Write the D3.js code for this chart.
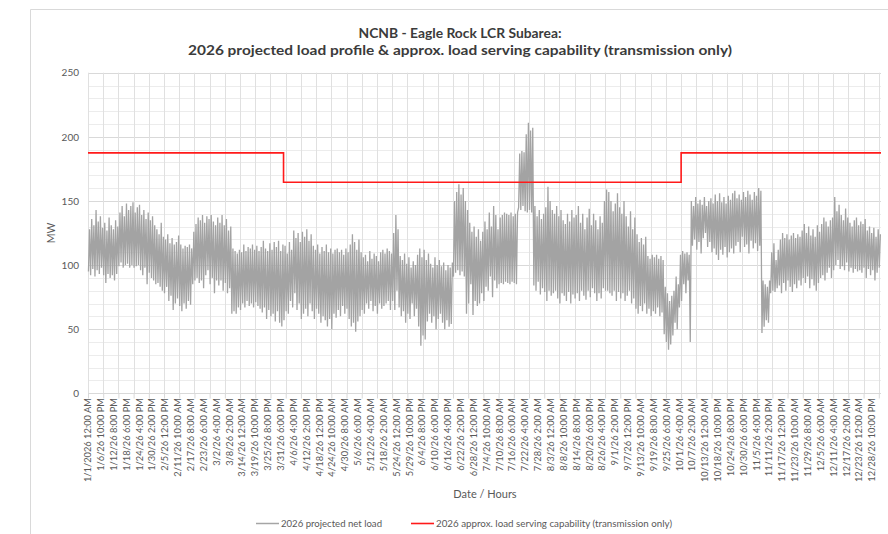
<!DOCTYPE html>
<html>
<head>
<meta charset="utf-8">
<script src="https://cdn.jsdelivr.net/npm/d3@7"></script>
<style>
  html, body { margin: 0; padding: 0; background: #fff; }
  svg { display: block; }
</style>
</head>
<body>
<svg id="chart" width="888" height="534"></svg>
<script>
// ---------------- DATA ----------------
const titleLines = ["NCNB - Eagle Rock LCR Subarea:",
  "2026 projected load profile & approx. load serving capability (transmission only)"];
const yTicks = [0, 50, 100, 150, 200, 250];
const hoursInYear = 8760;
const labelEveryHours = 142;
const gridEveryHours = 168;
const xLabels = [
 "1/1/2026 12:00 AM","1/6/26 10:00 PM","1/12/26 8:00 PM","1/18/26 6:00 PM","1/24/26 4:00 PM","1/30/26 2:00 PM",
 "2/5/26 12:00 PM","2/11/26 10:00 AM","2/17/26 8:00 AM","2/23/26 6:00 AM","3/2/26 4:00 AM","3/8/26 2:00 AM",
 "3/14/26 12:00 AM","3/19/26 10:00 PM","3/25/26 8:00 PM","3/31/26 6:00 PM","4/6/26 4:00 PM","4/12/26 2:00 PM",
 "4/18/26 12:00 PM","4/24/26 10:00 AM","4/30/26 8:00 AM","5/6/26 6:00 AM","5/12/26 4:00 AM","5/18/26 2:00 AM",
 "5/24/26 12:00 AM","5/29/26 10:00 PM","6/4/26 8:00 PM","6/10/26 6:00 PM","6/16/26 4:00 PM","6/22/26 2:00 PM",
 "6/28/26 12:00 PM","7/4/26 10:00 AM","7/10/26 8:00 AM","7/16/26 6:00 AM","7/22/26 4:00 AM","7/28/26 2:00 AM",
 "8/3/26 12:00 AM","8/8/26 10:00 PM","8/14/26 8:00 PM","8/20/26 6:00 PM","8/26/26 4:00 PM","9/1/26 2:00 PM",
 "9/7/26 12:00 PM","9/13/26 10:00 AM","9/19/26 8:00 AM","9/25/26 6:00 AM","10/1/26 4:00 AM","10/7/26 2:00 AM",
 "10/13/26 12:00 AM","10/18/26 10:00 PM","10/24/26 8:00 PM","10/30/26 6:00 PM","11/5/26 4:00 PM","11/11/26 2:00 PM",
 "11/17/26 12:00 PM","11/23/26 10:00 AM","11/29/26 8:00 AM","12/5/26 6:00 AM","12/11/26 4:00 AM","12/17/26 2:00 AM",
 "12/23/26 12:00 AM","12/28/26 10:00 PM"];

// Daily peak (max) of the projected net load, MW, day 0 = Jan 1
const loadDailyMax = [
 128,136,131,143,134,138,129,133,127,137, 131,128,135,130,141,146,138,148,143,146,
 149,141,145,147,139,143,136,141,135,138, 131,128,124,133,122,120,124,117,121,116,
 118,123,116,113,115,114,116,113,126,132, 137,135,139,133,138,136,139,134,131,137,
 133,139,131,136,127,130,113,111,109,112, 110,116,111,114,113,116,112,115,111,114,
 119,113,111,117,112,118,114,119,111,116, 115,109,118,112,127,121,125,118,126,122,
 128,119,124,115,112,116,109,114,111,116, 110,113,109,112,113,110,112,108,113,110,
 116,124,118,112,120,110,106,108,103,111, 105,109,107,103,110,112,109,113,111,109,
 125,139,128,107,104,109,101,106,98,103, 100,108,113,106,112,104,109,101,98,106,
 100,104,99,102,96,100,98,102,150,157, 163,155,160,150,143,133,126,130,122,128,
 119,126,134,128,141,130,146,139,128,137, 139,141,140,139,141,138,140,141,187,189,
 188,202,211,205,207,146,138,143,136,140, 145,161,150,143,140,146,138,143,135,132,
 140,134,143,137,139,146,133,140,128,137, 144,131,140,135,128,138,133,150,159,157,
 150,142,148,156,145,140,150,138,130,142, 128,137,124,118,121,116,122,107,105,108,
 106,108,105,107,104,83,78,72,76,80, 91,85,108,111,109,110,108,150,146,153,
 148,151,147,153,146,150,152,148,155,150, 156,149,153,148,154,151,156,158,152,155,
 151,157,153,158,155,151,157,154,160,158, 88,85,83,88,110,117,104,112,120,125,
 121,124,120,123,125,121,124,122,127,132, 125,130,123,128,122,131,126,132,137,134,
 130,135,137,153,142,147,139,135,144,137, 133,130,135,137,131,134,132,136,127,130,
 125,129,122,128,124];

// Daily minimum of the projected net load, MW
const loadDailyMin = [
 95,92,97,91,96,93,98,92,86,93, 90,92,88,93,99,102,98,100,101,98,
 100,98,99,100,96,92,98,85,94,90, 88,85,86,83,80,78,83,72,76,65,
 70,74,68,64,70,66,72,69,85,88, 90,86,88,82,92,96,85,90,78,88,
 84,88,80,86,78,82,62,64,62,67, 65,70,67,72,68,70,67,71,68,66,
 63,67,58,65,60,62,56,64,55,52, 57,64,62,72,67,78,65,70,58,62,
 66,60,70,64,58,66,62,55,60,57, 52,58,50,62,59,65,60,68,62,66,
 58,52,55,48,56,60,65,62,70,66, 72,64,68,62,70,66,68,70,72,65,
 72,65,80,67,60,64,55,62,58,70, 60,66,52,37,45,42,56,62,55,60,
 50,58,62,55,50,57,52,54,91,94, 96,92,95,91,62,70,85,61,72,68,
 70,78,72,83,80,91,75,88,82,85, 86,85,87,86,85,87,86,85,145,143,
 146,142,141,143,141,84,80,87,77,82, 79,72,80,76,78,80,74,70,78,76,
 72,79,70,77,74,78,72,80,76,73, 80,75,82,78,72,78,74,82,80,80,
 78,76,80,72,79,74,78,72,76,80, 70,74,66,62,68,64,70,62,66,60,
 64,62,67,60,63,46,40,34,38,45, 55,50,67,72,85,78,88,40,115,120,
 112,118,109,121,125,114,118,110,113,108, 104,112,108,114,106,110,113,109,115,118,
 110,122,114,116,109,119,113,117,111,115, 47,52,57,55,78,80,79,82,84,78,
 86,80,88,83,79,85,82,88,84,90, 86,91,82,89,84,80,86,90,92,88,
 94,98,90,96,100,104,97,99,96,102, 95,98,94,97,95,96,94,98,90,97,
 92,96,88,94,98];

// Load serving capability steps: [start hour, end hour, MW]
const capabilitySteps = [
 [0, 2160, 187.5],
 [2160, 6552, 164.6],
 [6552, 8760, 187.5]];

const legendItems = ["2026 projected net load", "2026 approx. load serving  capability (transmission only)"];
const axisTitleX = "Date / Hours";
const axisTitleY = "MW";

// ---------------- DRAW ----------------
const svg = d3.select("#chart");
const FONT = "Lato, 'Open Sans', 'Liberation Sans', sans-serif";
const plot = {left: 88, right: 881, top: 72.7, bottom: 393.3};

const x = d3.scaleLinear().domain([0, hoursInYear]).range([plot.left, plot.right]);
const y = d3.scaleLinear().domain([0, 250]).range([plot.bottom, plot.top]);

// chart border
svg.append("path").attr("d", `M30.5,534 V9.5 H888`).attr("fill", "none").attr("stroke", "#d9d9d9");

// horizontal gridlines (minor every 10)
const minorY = d3.range(10, 251, 10);
svg.append("g").selectAll("line").data(minorY).join("line")
  .attr("x1", plot.left).attr("x2", plot.right)
  .attr("y1", d => Math.round(y(d)) + 0.5).attr("y2", d => Math.round(y(d)) + 0.5)
  .attr("stroke", d => d % 50 === 0 ? "#d9d9d9" : "#ececec").attr("stroke-width", 1);

// vertical gridlines every week
const gridX = d3.range(gridEveryHours, hoursInYear, gridEveryHours);
svg.append("g").selectAll("line").data(gridX).join("line")
  .attr("x1", d => Math.round(x(d)) + 0.5).attr("x2", d => Math.round(x(d)) + 0.5)
  .attr("y1", plot.top).attr("y2", plot.bottom)
  .attr("stroke", "#e0e0e0");
svg.append("line").attr("x1", plot.left + 0.5).attr("x2", plot.left + 0.5)
  .attr("y1", plot.top).attr("y2", plot.bottom).attr("stroke", "#e0e0e0");

// x axis
const xAxis = d3.axisBottom(x).tickValues(d3.range(0, hoursInYear, gridEveryHours)).tickSize(5).tickFormat("");
const gx = svg.append("g").attr("transform", `translate(0,${Math.round(plot.bottom) + 0.5})`).call(xAxis);
gx.select(".domain").attr("stroke", "#d9d9d9").attr("d", `M${plot.left},0H${plot.right}`);
gx.selectAll(".tick line").attr("stroke", "#d9d9d9");

// x labels
svg.append("g").selectAll("text").data(xLabels).join("text")
  .attr("transform", (d, i) => `translate(${x(i * labelEveryHours) + 3.2},398) rotate(-90)`)
  .attr("text-anchor", "end")
  .attr("font-family", FONT).attr("font-size", 9.3).attr("fill", "#595959")
  .text(d => d);

// y axis labels
const yAxis = d3.axisLeft(y).tickValues(yTicks).tickSize(0).tickPadding(9);
const gy = svg.append("g").attr("transform", `translate(${plot.left},0)`).call(yAxis);
gy.select(".domain").remove();
gy.selectAll("text").attr("font-family", FONT).attr("font-size", 10).attr("fill", "#595959");

// axis titles
svg.append("text").attr("transform", "translate(55,233) rotate(-90)").attr("text-anchor", "middle")
  .attr("font-family", FONT).attr("font-size", 10.5).attr("fill", "#595959").text(axisTitleY);
svg.append("text").attr("x", 485).attr("y", 498).attr("text-anchor", "middle")
  .attr("font-family", FONT).attr("font-size", 11).attr("fill", "#595959").text(axisTitleX);

// title
svg.append("text").attr("x", 460).attr("y", 38).attr("text-anchor", "middle")
  .attr("font-family", FONT).attr("font-weight", "bold").attr("font-size", 13.5).attr("fill", "#3b3b3b")
  .attr("textLength", 203).attr("lengthAdjust", "spacingAndGlyphs")
  .text(titleLines[0]);
svg.append("text").attr("x", 460).attr("y", 55).attr("text-anchor", "middle")
  .attr("font-family", FONT).attr("font-weight", "bold").attr("font-size", 13.5).attr("fill", "#3b3b3b")
  .attr("textLength", 544).attr("lengthAdjust", "spacingAndGlyphs")
  .text(titleLines[1]);

// load series: zigzag between daily minimum (early morning) and daily peak (evening)
const loadPoints = [];
loadDailyMax.forEach((mx, d) => {
  loadPoints.push([d * 24 + 5, loadDailyMin[d]]);
  loadPoints.push([d * 24 + 17, mx]);
});
svg.append("path").datum(loadPoints)
  .attr("fill", "none").attr("stroke", "#a3a3a3").attr("stroke-width", 1.3)
  .attr("stroke-linejoin", "miter")
  .attr("d", d3.line().x(d => x(d[0])).y(d => y(d[1])));

// capability step line
const capPoints = [];
capabilitySteps.forEach(s => { capPoints.push([s[0], s[2]]); capPoints.push([s[1], s[2]]); });
svg.append("path").datum(capPoints)
  .attr("fill", "none").attr("stroke", "#ff1a1a").attr("stroke-width", 1.6)
  .attr("d", d3.line().x(d => x(d[0])).y(d => y(d[1])));

// legend
const lg = svg.append("g").attr("font-family", FONT).attr("font-size", 9.5).attr("fill", "#595959");
lg.append("line").attr("x1", 256).attr("x2", 279).attr("y1", 523.5).attr("y2", 523.5).attr("stroke", "#a5a5a5").attr("stroke-width", 1.5);
lg.append("text").attr("x", 281).attr("y", 527).attr("textLength", 101).attr("lengthAdjust", "spacingAndGlyphs").text(legendItems[0]);
lg.append("line").attr("x1", 411).attr("x2", 434).attr("y1", 523.5).attr("y2", 523.5).attr("stroke", "#ff1a1a").attr("stroke-width", 1.6);
lg.append("text").attr("x", 436).attr("y", 527).attr("textLength", 236).attr("lengthAdjust", "spacingAndGlyphs").text(legendItems[1]);
</script>
</body>
</html>
